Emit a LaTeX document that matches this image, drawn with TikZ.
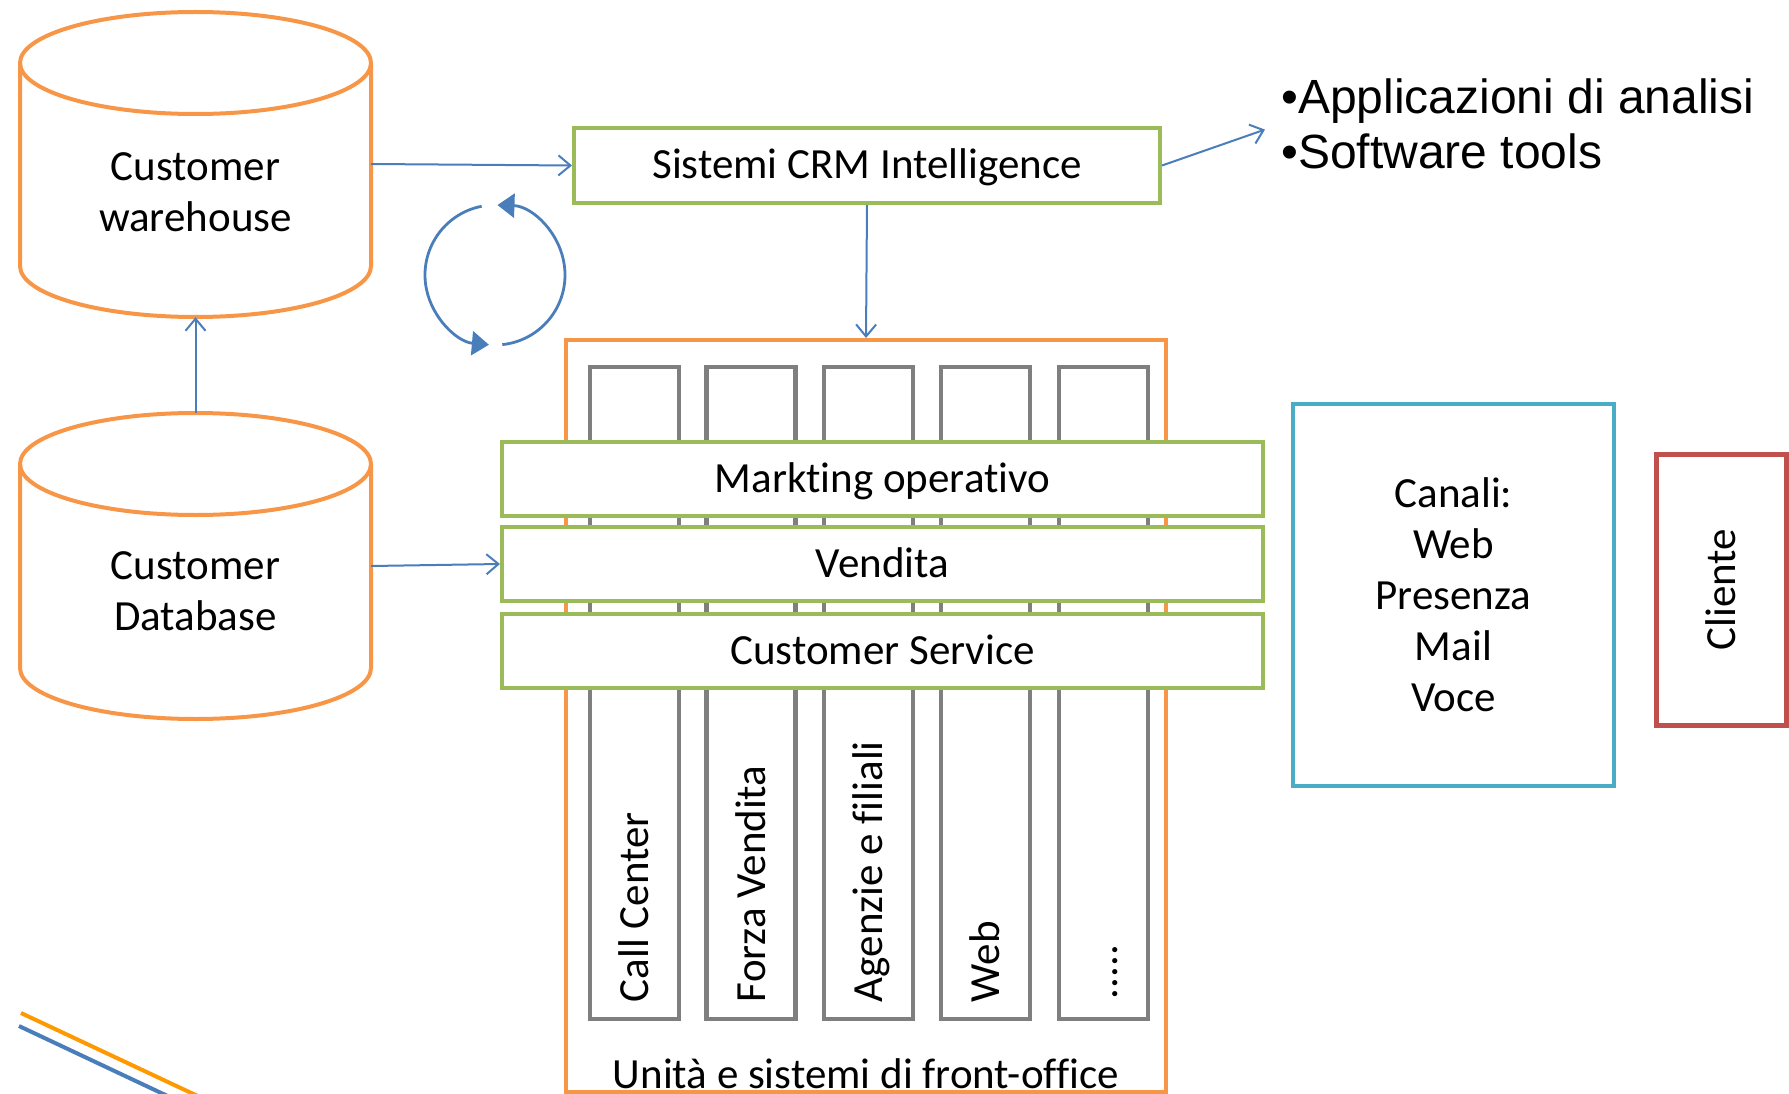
\documentclass[tikz,border=0pt]{standalone}
\usepackage{fontspec}
\setmainfont{Carlito}[Ligatures=NoCommon]
\newfontfamily\arialfont{Liberation Sans}
\usetikzlibrary{positioning,arrows.meta}
\definecolor{cylorange}{HTML}{F79646}
\definecolor{crmgreen}{HTML}{9BBB59}
\definecolor{colgray}{HTML}{7F7F7F}
\definecolor{chancyan}{HTML}{4BACC6}
\definecolor{clientred}{HTML}{C0504D}
\definecolor{linkblue}{HTML}{4A7EBB}
\definecolor{deco}{HTML}{FF9900}

\begin{document}
\begin{tikzpicture}[x=1pt,y=-1pt,
    every node/.style={font=\fontsize{43}{51}\selectfont, inner sep=0pt},
    cyl/.style={draw=cylorange, line width=4pt},
    bar/.style={draw=crmgreen, line width=4pt, fill=white, minimum width=761pt, minimum height=74pt, text height=30pt, text depth=4pt},
    column/.style={draw=colgray, line width=4.5pt, minimum width=89pt, minimum height=652pt},
    coltext/.style={rotate=90, anchor=west, text height=28pt, text depth=0pt},
    link/.style={draw=linkblue, line width=2pt, -{Straight Barb[length=12pt,width=20pt]}},
    cycle/.style={draw=linkblue, line width=2.8pt, -{Triangle[length=17pt,width=24pt]}}]
\useasboundingbox (0,0) rectangle (1789,1094);
\clip (0,0) rectangle (1789,1094);

% cylinders
\node[minimum width=351pt, minimum height=306pt] (cw) at (195.5,164) {};
\node[minimum width=351pt, minimum height=306pt] (cdb) at (195.5,566) {};
\draw[cyl] (20,63) -- (20,266) arc[start angle=180, end angle=0, x radius=175.5, y radius=51] -- (371,63);
\draw[cyl] (195.5,63) ellipse[x radius=175.5, y radius=51];
\draw[cyl] (20,464) -- (20,668) arc[start angle=180, end angle=0, x radius=175.5, y radius=51] -- (371,464);
\draw[cyl] (195.5,464) ellipse[x radius=175.5, y radius=51];
\node[align=center] (cwtext) at (195.5,192) {Customer\\warehouse};
\node[align=center] (cdbtext) at (195.5,591) {Customer\\Database};

\node[draw=crmgreen, line width=4pt, minimum width=586pt, minimum height=75pt, text height=30pt, text depth=4pt] (crm) at (867,165.5) {Sistemi CRM Intelligence};
\node[anchor=west, align=left, font=\arialfont\fontsize{48}{55}\selectfont] (tools) at (1281,124) {•Applicazioni di analisi\\•Software tools};

% front-office
\node[draw=cylorange, line width=4pt, minimum width=600pt, minimum height=752pt] (fo) at (866,716) {};
\node[anchor=base] (folabel) at (866,1088) {Unità e sistemi di front-office};
\node[column] (c1) at (634.5,693) {};
\node[column] (c2) at (751,693) {};
\node[column] (c3) at (868.5,693) {};
\node[column] (c4) at (985.5,693) {};
\node[column] (c5) at (1103.5,693) {};
\node[coltext] at ([yshift=19pt]c1.south) {Call Center};
\node[coltext] at ([yshift=19pt]c2.south) {Forza Vendita};
\node[coltext] at ([yshift=19pt]c3.south) {Agenzie e filiali};
\node[coltext] at ([yshift=19pt]c4.south) {Web};
\node[coltext] at ([yshift=22pt]c5.south) {.....};
\node[bar] (mkt) at (882.5,479) {Markting operativo};
\node[bar] (vend) at (882.5,564) {Vendita};
\node[bar] (cs) at (882.5,651) {Customer Service};

\node[draw=chancyan, line width=4pt, minimum width=321pt, minimum height=382pt, align=center] (canali) at (1453.5,595) {Canali:\\Web\\Presenza\\Mail\\Voce};
\node[draw=clientred, line width=5pt, minimum width=130pt, minimum height=271pt] (cliente) at (1721,589.5) {};
\node[rotate=90] at (cliente.center) {Cliente};

\draw[link] (cw.east) -- (crm.west);
\draw[link, shorten >=17pt] (crm.east) -- (tools.west);
\draw[link] (crm.south) -- (fo.north);
\draw[link] (cdb.north) -- (cw.south);
\draw[link] (cdb.east) -- (vend.west);

\draw[cycle] (495,275) ++(-101:70) arc[start angle=-101, end angle=-265, radius=70];
\draw[cycle] (495,275) ++(84:70) arc[start angle=84, end angle=-88, radius=70];

\draw[deco, line width=4pt] (21,1013) -- (236,1114);
\draw[linkblue, line width=4pt] (19,1026) -- (210,1116);
\end{tikzpicture}
\end{document}
